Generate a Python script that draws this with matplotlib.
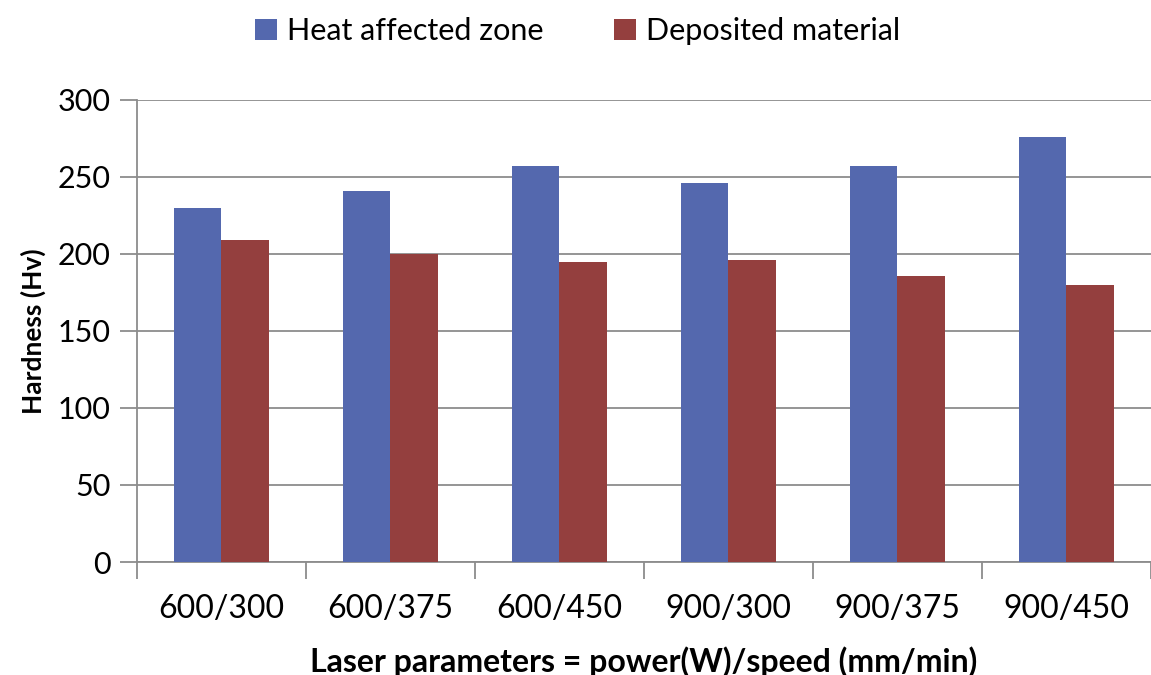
import matplotlib.pyplot as plt
import numpy as np

plt.rcParams['font.family'] = ['Lato', 'DejaVu Sans']

categories = ['600/300', '600/375', '600/450', '900/300', '900/375', '900/450']
haz = [230, 241, 257, 246, 257, 276]
deposited = [209, 200, 195, 196, 186, 180]
series_names = ['Heat affected zone', 'Deposited material']
colors = ['#5468ae', '#943f3e']

fig = plt.figure(figsize=(11.51, 6.75), dpi=100)
ax = fig.add_axes([0.119, 0.1674, 0.881, 0.6845])

x = np.arange(len(categories))
w = 0.282
b1 = ax.bar(x - w / 2, haz, w, color=colors[0], zorder=3)
b2 = ax.bar(x + w / 2, deposited, w, color=colors[1], zorder=3)

ax.set_ylim(0, 300)
ax.set_xlim(-0.5, 5.453)
ax.set_yticks(range(0, 301, 50))
ax.yaxis.grid(True, color='#8c8c8c', lw=1.3, zorder=0)
ax.tick_params(axis='y', length=12, width=1.3, color='#8c8c8c', labelsize=22, pad=7)

# category boundaries as ticks, labels centred on minor ticks
ax.set_xticks(np.arange(-0.5, 6, 1))
ax.set_xticklabels([])
ax.set_xticks(x, minor=True)
ax.set_xticklabels(categories, minor=True, fontsize=23)
ax.tick_params(axis='x', which='major', length=12, width=1.3, color='#8c8c8c')
ax.tick_params(axis='x', which='minor', length=0, pad=23)

for s in ['top', 'right']:
    ax.spines[s].set_visible(False)
for s in ['left', 'bottom']:
    ax.spines[s].set_color('#8c8c8c')
    ax.spines[s].set_linewidth(1.3)

ax.set_ylabel('Hardness (Hv)', fontsize=19, fontweight='bold', labelpad=8)
ax.set_xlabel('Laser parameters = power(W)/speed (mm/min)', fontsize=23,
              fontweight='bold', labelpad=16)

fig.legend([b1, b2], series_names, loc='upper center', bbox_to_anchor=(0.502, 1.015),
           ncol=2, frameon=False, fontsize=22, handlelength=0.7, handleheight=0.7,
           columnspacing=2.3, handletextpad=0.35)

fig.savefig('out.png', dpi=100)
